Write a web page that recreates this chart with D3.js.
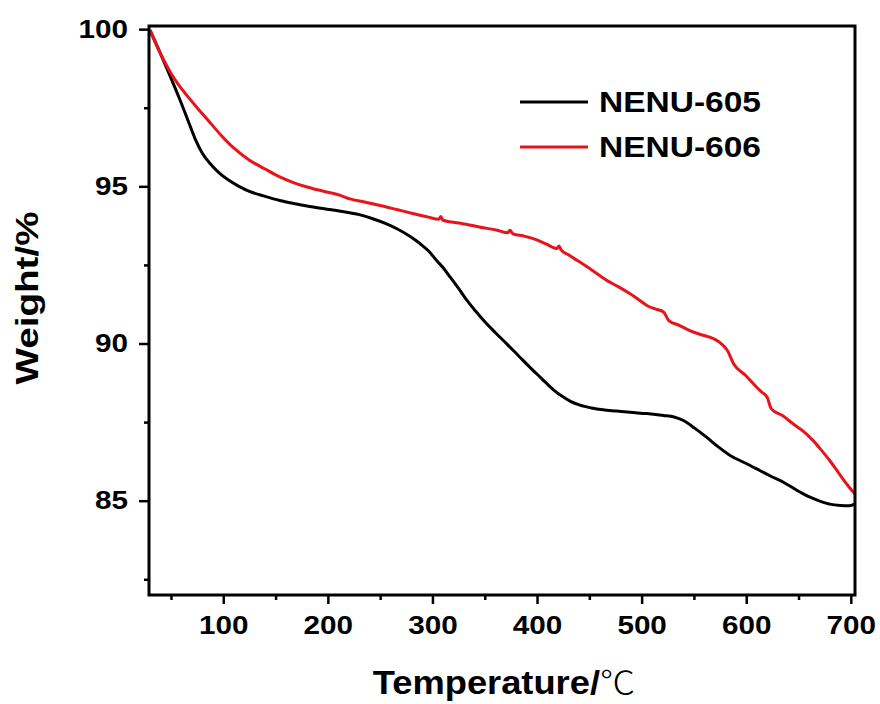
<!DOCTYPE html>
<html>
<head>
<meta charset="utf-8">
<script src="https://cdn.jsdelivr.net/npm/d3@7"></script>
<style>
html,body{margin:0;padding:0;background:#fff;}
svg{display:block;}
</style>
</head>
<body>
<script>
// ---- data ----
const seriesNames = ["NENU-605", "NENU-606"];
const seriesColors = ["#000000", "#e8141b"];

const temp605 = [30, 40, 49, 58, 66, 73, 80, 88, 96, 105, 115, 125, 140, 154, 170, 186, 212, 230, 243, 255, 266, 278, 288, 297, 304, 311, 317, 325, 333, 341, 349, 360, 371, 382, 393, 404, 416, 424, 432, 441, 452, 463, 476, 489, 505, 521, 531, 540, 551, 562, 573, 585, 599, 613, 624, 636, 648, 661, 671, 680, 690, 699, 704];
const weight605 = [99.97, 99.22, 98.52, 97.8, 97.12, 96.52, 96.05, 95.7, 95.43, 95.2, 95.0, 94.84, 94.68, 94.55, 94.44, 94.34, 94.21, 94.1, 93.97, 93.82, 93.65, 93.42, 93.18, 92.92, 92.64, 92.38, 92.11, 91.75, 91.37, 91.04, 90.73, 90.35, 89.99, 89.62, 89.25, 88.9, 88.52, 88.32, 88.16, 88.04, 87.95, 87.89, 87.85, 87.81, 87.77, 87.71, 87.66, 87.55, 87.3, 87.02, 86.72, 86.43, 86.2, 85.96, 85.77, 85.58, 85.34, 85.11, 84.98, 84.89, 84.85, 84.84, 84.9];

const temp606 = [30, 36, 43, 50, 57, 65, 75, 86, 97, 110, 125, 140, 154, 167, 180, 195, 212, 221, 235, 250, 265, 282, 296, 306, 308, 310, 328, 346, 362, 372, 374, 377, 387, 397, 408, 419, 421, 423, 430, 441, 454, 467, 478, 489, 497, 505, 513, 521, 526, 536, 546, 557, 569, 576, 582, 588, 599, 610, 615, 620, 624, 635, 645, 655, 664, 672, 680, 688, 696, 704];
const weight606 = [99.97, 99.5, 99.02, 98.6, 98.24, 97.9, 97.5, 97.08, 96.66, 96.22, 95.83, 95.55, 95.3, 95.12, 94.98, 94.85, 94.71, 94.6, 94.5, 94.39, 94.27, 94.13, 94.02, 93.95, 94.04, 93.92, 93.82, 93.7, 93.6, 93.52, 93.6, 93.49, 93.42, 93.33, 93.18, 93.02, 93.1, 92.98, 92.82, 92.59, 92.3, 92.0, 91.8, 91.58, 91.4, 91.21, 91.1, 91.0, 90.73, 90.58, 90.41, 90.28, 90.15, 90.0, 89.78, 89.35, 89.0, 88.61, 88.45, 88.29, 87.92, 87.7, 87.44, 87.2, 86.91, 86.6, 86.27, 85.9, 85.53, 85.21];

const xMajorTicks = [100, 200, 300, 400, 500, 600, 700];
const xMinorTicks = [50, 150, 250, 350, 450, 550, 650];
const yMajorTicks = [85, 90, 95, 100];
const yMinorTicks = [82.5, 87.5, 92.5, 97.5];
const xDomain = [29, 704];
const yDomain = [82, 100.1];
const xTitle = "Temperature/";
const xUnit = "℃";
const yTitle = "Weight/%";

// ---- layout ----
const W = 880, H = 704;
const L = 149, R = 855, T = 26, B = 595;

const svg = d3.select("body").append("svg").attr("width", W).attr("height", H);

const x = d3.scaleLinear().domain(xDomain).range([L, R]);
const y = d3.scaleLinear().domain(yDomain).range([B, T]);

const font = "Arial, 'Liberation Sans', sans-serif";

// curves
const series = [
  temp605.map((t, i) => [t, weight605[i]]),
  temp606.map((t, i) => [t, weight606[i]])
];
const line = d3.line().x(d => x(d[0])).y(d => y(d[1])).curve(d3.curveMonotoneX);
svg.append("clipPath").attr("id", "clip").append("rect")
  .attr("x", L).attr("y", T - 2).attr("width", R - L).attr("height", B - T + 2);
series.forEach((s, i) => {
  svg.append("path").datum(s)
    .attr("d", line)
    .attr("fill", "none")
    .attr("stroke", seriesColors[i])
    .attr("stroke-width", 3)
    .attr("stroke-linejoin", "round")
    .attr("clip-path", "url(#clip)");
});

// axes
function styleAxis(g) {
  g.select(".domain").remove();
  g.selectAll(".tick line").attr("stroke", "#000").attr("stroke-width", 2.5);
}
const xAxis = svg.append("g").attr("transform", `translate(0,${B})`)
  .call(d3.axisBottom(x).tickValues(xMajorTicks).tickSize(9).tickPadding(12).tickFormat(d3.format("d")));
styleAxis(xAxis);
xAxis.selectAll("text").attr("font-family", font).attr("font-weight", "bold")
  .attr("font-size", 26).attr("fill", "#000")
  .attr("textLength", function() { return this.textContent.length * 16.5; })
  .attr("lengthAdjust", "spacingAndGlyphs");
svg.append("g").attr("transform", `translate(0,${B})`)
  .call(d3.axisBottom(x).tickValues(xMinorTicks).tickSize(5).tickFormat(""))
  .call(styleAxis);

const yAxis = svg.append("g").attr("transform", `translate(${L},0)`)
  .call(d3.axisLeft(y).tickValues(yMajorTicks).tickSize(10).tickPadding(11).tickFormat(d3.format("d")));
styleAxis(yAxis);
yAxis.selectAll("text").attr("font-family", font).attr("font-weight", "bold")
  .attr("font-size", 25).attr("fill", "#000")
  .attr("textLength", function() { return this.textContent.length * 16.5; })
  .attr("lengthAdjust", "spacingAndGlyphs");
svg.append("g").attr("transform", `translate(${L},0)`)
  .call(d3.axisLeft(y).tickValues(yMinorTicks).tickSize(5).tickFormat(""))
  .call(styleAxis);

// frame
svg.append("rect").attr("x", L).attr("y", T).attr("width", R - L).attr("height", B - T)
  .attr("fill", "none").attr("stroke", "#000").attr("stroke-width", 3);

// axis titles
const xt = svg.append("text")
  .attr("transform", `translate(504,694) scale(1.1,1)`)
  .attr("text-anchor", "middle")
  .attr("font-family", font).attr("font-size", 33).attr("fill", "#000");
xt.append("tspan").attr("font-weight", "bold").text(xTitle);
xt.append("tspan").attr("font-family", "'Noto Sans CJK SC', 'DejaVu Serif', serif")
  .attr("font-weight", 300).attr("font-size", 32).text(xUnit);

svg.append("text")
  .attr("transform", `translate(38,298) rotate(-90)`)
  .attr("text-anchor", "middle")
  .attr("font-family", font).attr("font-weight", "bold").attr("font-size", 31).attr("fill", "#000")
  .attr("textLength", 173).attr("lengthAdjust", "spacingAndGlyphs")
  .text(yTitle);

// legend
const legY = [102, 147];
seriesNames.forEach((name, i) => {
  svg.append("line").attr("x1", 520).attr("x2", 588).attr("y1", legY[i]).attr("y2", legY[i])
    .attr("stroke", seriesColors[i]).attr("stroke-width", 3);
  svg.append("text").attr("x", 599).attr("y", legY[i] + 10)
    .attr("font-family", font).attr("font-weight", "bold").attr("font-size", 30).attr("fill", "#000")
    .attr("textLength", 162).attr("lengthAdjust", "spacingAndGlyphs")
    .text(name);
});
</script>
</body>
</html>
